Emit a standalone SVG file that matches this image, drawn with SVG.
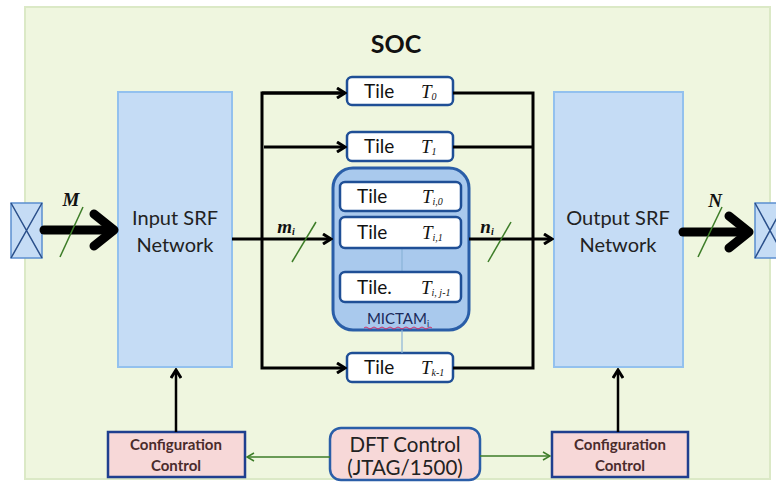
<svg xmlns="http://www.w3.org/2000/svg" width="776" height="484" viewBox="0 0 776 484">
<style>
.sans{font-family:Lato,"Liberation Sans",sans-serif;}
.net{fill:#c5dcf5;stroke:#93c1ee;stroke-width:2;}
.tile{fill:#ffffff;stroke:#1f4f96;stroke-width:2.5;}
.tt{font-family:Lato,"Liberation Sans",sans-serif;font-size:19px;fill:#111;}
.tl{font-family:"Liberation Serif",serif;font-style:italic;font-size:19px;fill:#111;}
.sub{font-size:10px;}
.cfg{fill:#f7d8d8;stroke:#1f3f8f;stroke-width:2.5;}
.ct{font-family:Lato,"Liberation Sans",sans-serif;font-size:15px;font-weight:bold;fill:#4a2c2c;text-anchor:middle;}
.blk{fill:none;stroke:#000;stroke-width:3;}
.thick{fill:none;stroke:#000;stroke-width:9;stroke-linecap:round;stroke-linejoin:round;}
.grn{fill:none;stroke:#3d7d28;stroke-width:1.5;}
.lab{font-family:"Liberation Serif",serif;font-style:italic;font-weight:bold;font-size:19px;fill:#111;text-anchor:middle;}
.pad{fill:#c5dcf5;stroke:#5b8fd0;stroke-width:1.5;}
</style>
<defs>
<marker id="ah" viewBox="0 0 12 12" refX="10" refY="6" markerWidth="12" markerHeight="12" markerUnits="userSpaceOnUse" orient="auto">
<path d="M2,1 L10,6 L2,11" fill="none" stroke="#000" stroke-width="3"/>
</marker>
<marker id="ag" viewBox="0 0 10 10" refX="9" refY="5" markerWidth="10" markerHeight="10" markerUnits="userSpaceOnUse" orient="auto">
<path d="M2,1 L9,5 L2,9" fill="none" stroke="#3d7d28" stroke-width="1.5"/>
</marker>
</defs>
<rect x="0" y="0" width="776" height="484" fill="#ffffff"/>
<g id="soc">
<rect x="25" y="7" width="745" height="472" fill="#eff6df" stroke="#dbe9c6" stroke-width="2"/>
<text x="396" y="53" class="sans" font-size="25" font-weight="bold" text-anchor="middle" fill="#111">SOC</text>
</g>
<g id="pad-left">
<rect x="11" y="203" width="31" height="55" class="pad"/>
<path d="M11,203 L42,258 M42,203 L11,258" stroke="#2a4f8a" stroke-width="1.5"/>
</g>
<g id="pad-right">
<rect x="755" y="203" width="30" height="55" class="pad"/>
<path d="M755,203 L785,258 M785,203 L755,258" stroke="#2a4f8a" stroke-width="1.5"/>
</g>
<g id="input-srf">
<rect x="118" y="92" width="114" height="275" class="net"/>
<text x="175" y="225" class="sans" font-size="20" text-anchor="middle" fill="#222">Input SRF</text>
<text x="175" y="252" class="sans" font-size="20" text-anchor="middle" fill="#222">Network</text>
</g>
<g id="output-srf">
<rect x="554" y="92" width="129" height="275" class="net"/>
<text x="618" y="225" class="sans" font-size="20" text-anchor="middle" fill="#222">Output SRF</text>
<text x="618" y="252" class="sans" font-size="20" text-anchor="middle" fill="#222">Network</text>
</g>
<g id="mictam">
<rect x="333" y="168" width="136" height="162" rx="20" fill="#a9c9ed" stroke="#2a5ea8" stroke-width="3"/>
<line x1="402" y1="248" x2="402" y2="272" stroke="#8ab4d8" stroke-width="1.2"/>
<text x="398" y="324" class="sans" font-size="15" text-anchor="middle" fill="#1a2a5a">MICTAM<tspan font-size="9" dy="3">i</tspan></text>
<path d="M364,328 q2,-2 4,0 t4,0 t4,0 t4,0 t4,0 t4,0 t4,0 t4,0 t4,0 t4,0 t4,0 t4,0 t4,0 t4,0 t4,0 t4,0 t4,0" fill="none" stroke="#d0306a" stroke-width="1"/>
</g>
<g id="tile-i0">
<rect x="340" y="182" width="121" height="29" rx="5" class="tile"/>
<text x="357" y="203" class="tt">Tile</text>
<text x="422" y="203" class="tl">T<tspan class="sub" dy="2">i,0</tspan></text>
</g>
<g id="tile-i1">
<rect x="340" y="217" width="121" height="31" rx="5" class="tile"/>
<text x="357" y="239" class="tt">Tile</text>
<text x="422" y="239" class="tl">T<tspan class="sub" dy="2">i,1</tspan></text>
</g>
<g id="tile-ij">
<rect x="340" y="272" width="121" height="30" rx="5" class="tile"/>
<text x="357" y="294" class="tt">Tile.</text>
<text x="421" y="294" class="tl">T<tspan class="sub" dy="2">i, j-1</tspan></text>
</g>
<g id="tile-0">
<rect x="347" y="77" width="106" height="28" rx="5" class="tile"/>
<text x="364" y="98" class="tt">Tile</text>
<text x="421" y="98" class="tl">T<tspan class="sub" dy="2">0</tspan></text>
</g>
<g id="tile-1">
<rect x="347" y="132" width="106" height="29" rx="5" class="tile"/>
<text x="364" y="153" class="tt">Tile</text>
<text x="421" y="153" class="tl">T<tspan class="sub" dy="2">1</tspan></text>
</g>
<g id="tile-k">
<rect x="347" y="353" width="106" height="29" rx="5" class="tile"/>
<text x="364" y="374" class="tt">Tile</text>
<text x="421" y="374" class="tl">T<tspan class="sub" dy="2">k-1</tspan></text>
</g>
<g id="cfg-left">
<rect x="108" y="432" width="137" height="45" class="cfg"/>
<text x="176" y="450" class="ct">Configuration</text>
<text x="176" y="471" class="ct">Control</text>
</g>
<g id="cfg-right">
<rect x="552" y="432" width="136" height="45" class="cfg"/>
<text x="620" y="450" class="ct">Configuration</text>
<text x="620" y="471" class="ct">Control</text>
</g>
<g id="dft">
<rect x="330" y="428" width="150" height="52" rx="11" fill="#f7d8d8" stroke="#2a5ea8" stroke-width="2.5"/>
<text x="405" y="452" class="sans" font-size="20.5" text-anchor="middle" fill="#222">DFT Control</text>
<text x="405" y="475" class="sans" font-size="20.5" text-anchor="middle" fill="#222">(JTAG/1500)</text>
</g>
<g id="connectors">
<line x1="44" y1="230" x2="112" y2="230" class="thick" stroke-linecap="butt"/>
<path d="M94,214 L114,230 L94,246" class="thick"/>
<line x1="683" y1="232" x2="747" y2="232" class="thick" stroke-linecap="butt"/>
<path d="M729,216 L749,232 L729,248" class="thick"/>
<line x1="60" y1="257" x2="83" y2="207" class="grn"/>
<line x1="698" y1="257" x2="722" y2="207" class="grn"/>
<text x="71" y="206" class="lab">M</text>
<text x="715" y="207" class="lab">N</text>
<path d="M345,93 L262,93 L262,368 L345,368" class="blk" marker-end="url(#ah)"/>
<line x1="262" y1="93" x2="345" y2="93" class="blk" marker-end="url(#ah)"/>
<line x1="264" y1="147" x2="345" y2="147" class="blk" marker-end="url(#ah)"/>
<line x1="232" y1="239" x2="331" y2="239" class="blk" marker-end="url(#ah)"/>
<line x1="292" y1="262" x2="316" y2="222" class="grn"/>
<text x="286" y="233" class="lab">m<tspan font-size="10" dy="2">i</tspan></text>
<path d="M453,93 L533,93 L533,368 L453,368" class="blk"/>
<line x1="453" y1="147" x2="533" y2="147" class="blk"/>
<line x1="469" y1="239" x2="552" y2="239" class="blk" marker-end="url(#ah)"/>
<line x1="488" y1="262" x2="511" y2="222" class="grn"/>
<text x="487" y="233" class="lab">n<tspan font-size="10" dy="2">i</tspan></text>
<line x1="402" y1="330" x2="402" y2="353" stroke="#8ab4d8" stroke-width="1.2"/>
<line x1="176" y1="432" x2="176" y2="370" stroke="#000" stroke-width="2.5" marker-end="url(#ah)"/>
<line x1="618" y1="432" x2="618" y2="370" stroke="#000" stroke-width="2.5" marker-end="url(#ah)"/>
<line x1="330" y1="457" x2="247" y2="457" class="grn" marker-end="url(#ag)"/>
<line x1="480" y1="456" x2="550" y2="456" class="grn" marker-end="url(#ag)"/>
</g>
</svg>
